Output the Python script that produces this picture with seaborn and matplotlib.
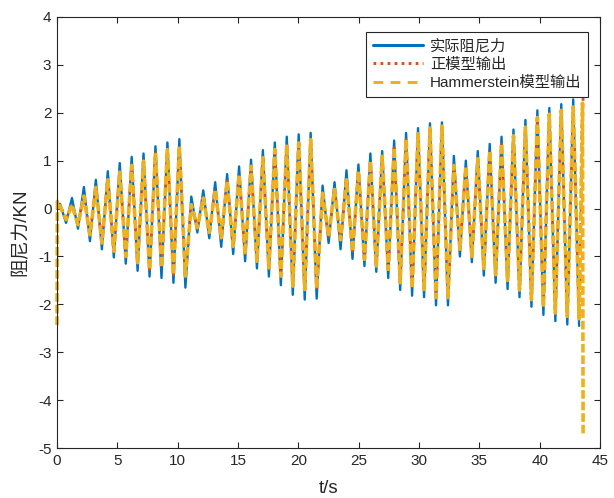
import matplotlib
matplotlib.use("Agg")
import matplotlib.pyplot as plt
from matplotlib.lines import Line2D
import seaborn as sns
import pandas as pd

# Times of successive peaks/troughs of the damping-force record (s)
t_ext = [0.25, 0.75, 1.24, 1.74, 2.23, 2.73, 3.22, 3.72, 4.21, 4.71, 5.20, 5.70,
         6.19, 6.68, 7.17, 7.67, 8.16, 8.66, 9.15, 9.65, 10.14, 10.64, 11.13, 11.63,
         12.12, 12.62, 13.11, 13.61, 14.10, 14.60, 15.09, 15.59, 16.08, 16.57, 17.06, 17.56,
         18.05, 18.55, 19.04, 19.54, 20.03, 20.53, 21.02, 21.52, 22.01, 22.51, 23.00, 23.50,
         23.99, 24.49, 24.98, 25.48, 25.97, 26.46, 26.95, 27.45, 27.94, 28.44, 28.93, 29.43,
         29.92, 30.42, 30.91, 31.41, 31.90, 32.40, 32.89, 33.39, 33.88, 34.38, 34.87, 35.37,
         35.86, 36.35, 36.84, 37.34, 37.83, 38.33, 38.82, 39.32, 39.81, 40.31, 40.80, 41.30,
         41.79, 42.29, 42.78, 43.27]

# Measured damping force at those extremes (kN)
actual_ext = [0.1, -0.3, 0.22, -0.42, 0.45, -0.68, 0.6, -0.85, 0.78, -1.02, 0.95, -1.15,
              1.08, -1.3, 1.15, -1.42, 1.3, -1.45, 1.38, -1.55, 1.45, -1.65, 0.25, -0.5,
              0.38, -0.62, 0.55, -0.8, 0.72, -0.95, 0.88, -1.1, 1.02, -1.25, 1.22, -1.42,
              1.38, -1.6, 1.5, -1.8, 1.55, -1.9, 1.58, -1.88, 0.48, -0.72, 0.55, -0.85,
              0.8, -1.05, 0.92, -1.2, 1.15, -1.32, 1.2, -1.45, 1.42, -1.7, 1.58, -1.82,
              1.68, -1.85, 1.78, -2.02, 1.8, -2.02, 1.1, -1.0, 1.0, -1.12, 1.2, -1.4,
              1.35, -1.55, 1.5, -1.68, 1.65, -1.85, 1.85, -2.05, 2.05, -2.22, 2.1, -2.35,
              2.18, -2.42, 2.28, -2.45]

# Model outputs at the same extremes (kN); both models follow the record closely
model_ext = [0.05, -0.23, 0.08, -0.34, 0.26, -0.55, 0.44, -0.72, 0.6, -0.89, 0.76, -1.0,
             0.9, -1.13, 0.99, -1.27, 1.16, -1.22, 1.23, -1.38, 1.3, -1.41, 0.08, -0.4,
             0.22, -0.5, 0.39, -0.61, 0.57, -0.79, 0.71, -0.96, 0.88, -1.1, 1.06, -1.24,
             1.23, -1.41, 1.34, -1.62, 1.37, -1.69, 1.44, -1.66, 0.32, -0.58, 0.4, -0.65,
             0.6, -0.89, 0.78, -1.06, 0.99, -1.2, 1.09, -1.27, 1.27, -1.55, 1.44, -1.66,
             1.56, -1.69, 1.68, -1.86, 1.72, -1.86, 0.9, -0.85, 0.88, -1.0, 1.04, -1.25,
             1.2, -1.38, 1.35, -1.5, 1.52, -1.7, 1.7, -1.9, 1.9, -2.06, 1.97, -2.18,
             2.05, -2.25, 2.12, -2.3]

# Start / end transients of the individual series
actual_t0, actual_v0 = [0.0], [0.0]
forward_t0, forward_v0 = [0.0], [0.0]
forward_t1, forward_v1 = [43.6], [2.35]
hammer_t0, hammer_v0 = [0.0, 0.03], [-2.43, 0.15]
hammer_t1, hammer_v1 = [43.55, 43.6], [2.2, -4.73]

labels = ["实际阻尼力", "正模型输出", "Hammerstein模型输出"]
x_ticks = [0, 5, 10, 15, 20, 25, 30, 35, 40, 45]
y_ticks = [-5, -4, -3, -2, -1, 0, 1, 2, 3, 4]

actual = pd.DataFrame({"t": actual_t0 + t_ext, "F": actual_v0 + actual_ext})
forward = pd.DataFrame({"t": forward_t0 + t_ext + forward_t1,
                        "F": forward_v0 + model_ext + forward_v1})
hammer = pd.DataFrame({"t": hammer_t0 + t_ext + hammer_t1,
                       "F": hammer_v0 + model_ext + hammer_v1})

sns.set_style("ticks")
plt.rcParams["font.family"] = ["Liberation Sans", "Noto Sans CJK SC", "DejaVu Sans"]
plt.rcParams["axes.unicode_minus"] = False

fig = plt.figure(figsize=(6.14, 4.98), dpi=100)
ax = fig.add_axes([57 / 614, 1 - 448 / 498, 543 / 614, 431 / 498])

c_blue, c_red, c_yel = "#0072BD", "#D95319", "#EDB120"

sns.lineplot(data=actual, x="t", y="F", sort=False, estimator=None, ax=ax,
             color=c_blue, lw=1.7, clip_on=False, legend=False)
sns.lineplot(data=forward, x="t", y="F", sort=False, estimator=None, ax=ax,
             color=c_red, lw=2.0, clip_on=False, legend=False)
sns.lineplot(data=hammer, x="t", y="F", sort=False, estimator=None, ax=ax,
             color=c_yel, lw=2.6, clip_on=False, legend=False)

l_blue, l_red, l_yel = ax.lines[0], ax.lines[1], ax.lines[2]
for ln in ax.lines:
    ln.set_solid_joinstyle("round")
    ln.set_dash_joinstyle("round")
l_red.set_dashes([1.0, 1.5])
l_red.set_dash_capstyle("butt")
l_yel.set_dashes([2.4, 0.8])
l_yel.set_dash_capstyle("butt")

ax.set_xlim(0, 45)
ax.set_ylim(-5, 4)
ax.set_xticks(x_ticks)
ax.set_yticks(y_ticks)
ax.set_xticklabels([str(v) for v in x_ticks])
ax.set_yticklabels([str(v) for v in y_ticks])

axis_col = "#262626"
for sp in ax.spines.values():
    sp.set_visible(True)
    sp.set_color(axis_col)
    sp.set_linewidth(0.8)
ax.tick_params(direction="in", length=4, width=0.8, top=True, right=True,
               colors=axis_col, labelsize=11, pad=4)

ax.set_xlabel("t/s", fontsize=13.5, color=axis_col, labelpad=9)
ax.set_ylabel("阻尼力/KN", fontsize=13.5, color=axis_col, labelpad=6)

# Legend keys drawn in the standard line styles
keys = [Line2D([], [], color=c_blue, lw=2.2),
        Line2D([], [], color=c_red, lw=2.2, dashes=[0.9, 1.4], dash_capstyle="butt"),
        Line2D([], [], color=c_yel, lw=2.2, dashes=[3.2, 2.4], dash_capstyle="butt")]
leg = ax.legend(keys, labels, loc="upper right",
                bbox_to_anchor=((588 - 57) / 543, 1 - 15 / 431),
                borderaxespad=0, fancybox=False, framealpha=1, edgecolor="#262626",
                fontsize=11, handlelength=3.3, handletextpad=0.45, labelspacing=0.3,
                borderpad=0.42)
leg.get_frame().set_linewidth(0.8)
for txt in leg.get_texts():
    txt.set_color(axis_col)

fig.savefig("out.png", dpi=100)
